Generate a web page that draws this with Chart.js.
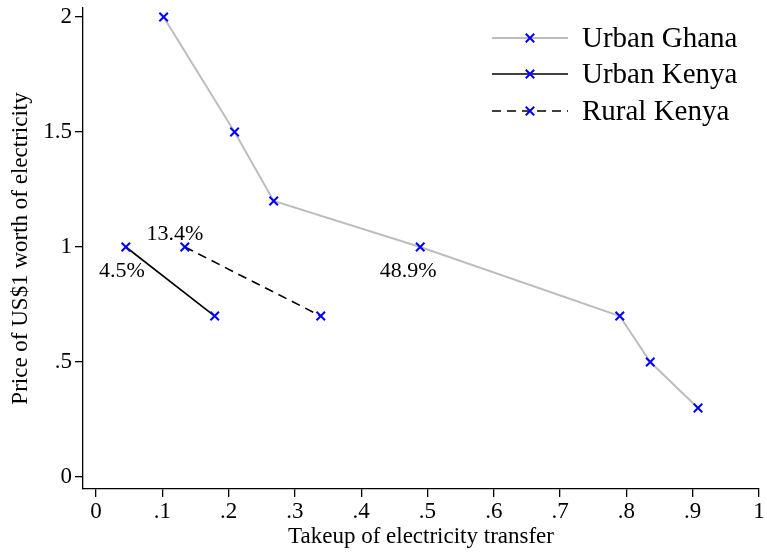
<!DOCTYPE html>
<html>
<head>
<meta charset="utf-8">
<script src="https://cdn.jsdelivr.net/npm/chart.js@4.4.1/dist/chart.umd.min.js"></script>
<style>
  html, body { margin: 0; padding: 0; background: #fff; }
  #wrap { width: 767px; height: 552px; }
</style>
</head>
<body>
<div id="wrap"><canvas id="c" width="767" height="552"></canvas></div>
<script>
// Takeup of the electricity transfer at each price (US$ per US$1 of electricity)
const ghanaTakeup      = [0.102, 0.209, 0.268, 0.489, 0.790, 0.836, 0.908];
const ghanaPrice       = [2.0,   1.5,   1.2,   1.0,   0.7,   0.5,   0.3];
const urbanKenyaTakeup = [0.045, 0.179];
const urbanKenyaPrice  = [1.0,   0.7];
const ruralKenyaTakeup = [0.134, 0.339];
const ruralKenyaPrice  = [1.0,   0.7];

const seriesNames = ['Urban Ghana', 'Urban Kenya', 'Rural Kenya'];
// takeup at a price of 1, written next to that point
const takeupAtOne = ['48.9%', '4.5%', '13.4%'];

const xTicks      = [0, 0.1, 0.2, 0.3, 0.4, 0.5, 0.6, 0.7, 0.8, 0.9, 1];
const xTickLabels = ['0', '.1', '.2', '.3', '.4', '.5', '.6', '.7', '.8', '.9', '1'];
const yTicks      = [0, 0.5, 1, 1.5, 2];
const yTickLabels = ['0', '.5', '1', '1.5', '2'];

const FONT = '"Liberation Serif", "DejaVu Serif", serif';
const MARK = '#0000ff';

function pts(xs, ys) { return xs.map((x, i) => ({ x: x, y: ys[i] })); }

const common = {
  pointStyle: 'crossRot', pointRadius: 6, pointHoverRadius: 6,
  pointBorderColor: MARK, pointBackgroundColor: MARK, pointBorderWidth: 2,
  showLine: true, fill: false, tension: 0
};

const datasets = [
  Object.assign({ label: seriesNames[0], data: pts(ghanaTakeup, ghanaPrice),
    borderColor: '#bdbdbd', borderWidth: 2, labelPos: { dx: -12, dy: 24 } }, common),
  Object.assign({ label: seriesNames[1], data: pts(urbanKenyaTakeup, urbanKenyaPrice),
    borderColor: '#000', borderWidth: 1.6, labelPos: { dx: -4, dy: 24 } }, common),
  Object.assign({ label: seriesNames[2], data: pts(ruralKenyaTakeup, ruralKenyaPrice),
    borderColor: '#000', borderWidth: 1.6, borderDash: [9, 6], labelPos: { dx: -10, dy: -13 } }, common)
];

// Percent labels beside the price-1 points
const valueLabels = {
  id: 'valueLabels',
  afterDatasetsDraw(chart) {
    const ctx = chart.ctx;
    const xs = chart.scales.x, ys = chart.scales.y;
    ctx.save();
    ctx.font = '22px ' + FONT;
    ctx.fillStyle = '#000';
    ctx.textAlign = 'center';
    ctx.textBaseline = 'middle';
    chart.data.datasets.forEach((ds, i) => {
      const p = ds.data.find(d => d.y === 1);
      if (!p) return;
      const px = xs.getPixelForValue(p.x) + ds.labelPos.dx;
      const py = ys.getPixelForValue(p.y) + ds.labelPos.dy;
      ctx.fillText(takeupAtOne[i], px, py);
    });
    ctx.restore();
  }
};

// Legend block in the upper right of the plot: line sample with marker, then name
const keyBox = {
  id: 'keyBox',
  afterDraw(chart) {
    const ctx = chart.ctx;
    const x0 = 492, x1 = 568, xm = 530, xt = 582;
    const rowY = [38, 74, 111];
    ctx.save();
    chart.data.datasets.forEach((ds, i) => {
      const y = rowY[i];
      ctx.beginPath();
      ctx.strokeStyle = ds.borderColor;
      ctx.lineWidth = ds.borderWidth;
      ctx.setLineDash(ds.borderDash || []);
      ctx.moveTo(x0, y); ctx.lineTo(x1, y);
      ctx.stroke();
      ctx.setLineDash([]);
      ctx.strokeStyle = MARK;
      ctx.lineWidth = 2;
      const r = 4.2;
      ctx.beginPath();
      ctx.moveTo(xm - r, y - r); ctx.lineTo(xm + r, y + r);
      ctx.moveTo(xm - r, y + r); ctx.lineTo(xm + r, y - r);
      ctx.stroke();
      ctx.fillStyle = '#000';
      ctx.font = '29px ' + FONT;
      ctx.textAlign = 'left';
      ctx.textBaseline = 'middle';
      ctx.fillText(ds.label, xt, y + 1);
    });
    ctx.restore();
  }
};

new Chart(document.getElementById('c'), {
  type: 'scatter',
  data: { datasets: datasets },
  plugins: [valueLabels, keyBox],
  options: {
    responsive: false,
    animation: false,
    devicePixelRatio: 1,
    layout: { padding: { top: 0, right: 6, left: 7, bottom: 0 } },
    plugins: { legend: { display: false }, tooltip: { enabled: false } },
    scales: {
      x: {
        type: 'linear', min: -0.0196, max: 1,
        afterBuildTicks(s) { s.ticks = xTicks.map(v => ({ value: v })); },
        afterFit(s) { s.height = 63; },
        border: { display: true, color: '#000', width: 1.3 },
        grid: { display: true, drawOnChartArea: false, drawTicks: true, tickLength: 8, color: '#000', lineWidth: 1.3 },
        ticks: {
          padding: 1, color: '#000', font: { family: FONT, size: 23 }, maxRotation: 0, autoSkip: false,
          callback: (v) => { const k = xTicks.findIndex(t => Math.abs(t - v) < 1e-9); return k >= 0 ? xTickLabels[k] : ''; }
        },
        title: { display: true, text: 'Takeup of electricity transfer', color: '#000',
          font: { family: FONT, size: 23 }, padding: { top: 0, bottom: 1 } }
      },
      y: {
        type: 'linear', min: -0.052, max: 2.039,
        afterBuildTicks(s) { s.ticks = yTicks.map(v => ({ value: v })); },
        afterFit(s) { s.width = 76; s.paddingTop = 8; },
        border: { display: true, color: '#000', width: 1.3 },
        grid: { display: true, drawOnChartArea: false, drawTicks: true, tickLength: 8, color: '#000', lineWidth: 1.3 },
        ticks: {
          padding: 3, color: '#000', font: { family: FONT, size: 23 }, autoSkip: false,
          callback: (v) => { const k = yTicks.findIndex(t => Math.abs(t - v) < 1e-9); return k >= 0 ? yTickLabels[k] : ''; }
        },
        title: { display: true, text: 'Price of US$1 worth of electricity', color: '#000',
          font: { family: FONT, size: 23 }, padding: { top: 0, bottom: 2 } }
      }
    }
  }
});
</script>
</body>
</html>
